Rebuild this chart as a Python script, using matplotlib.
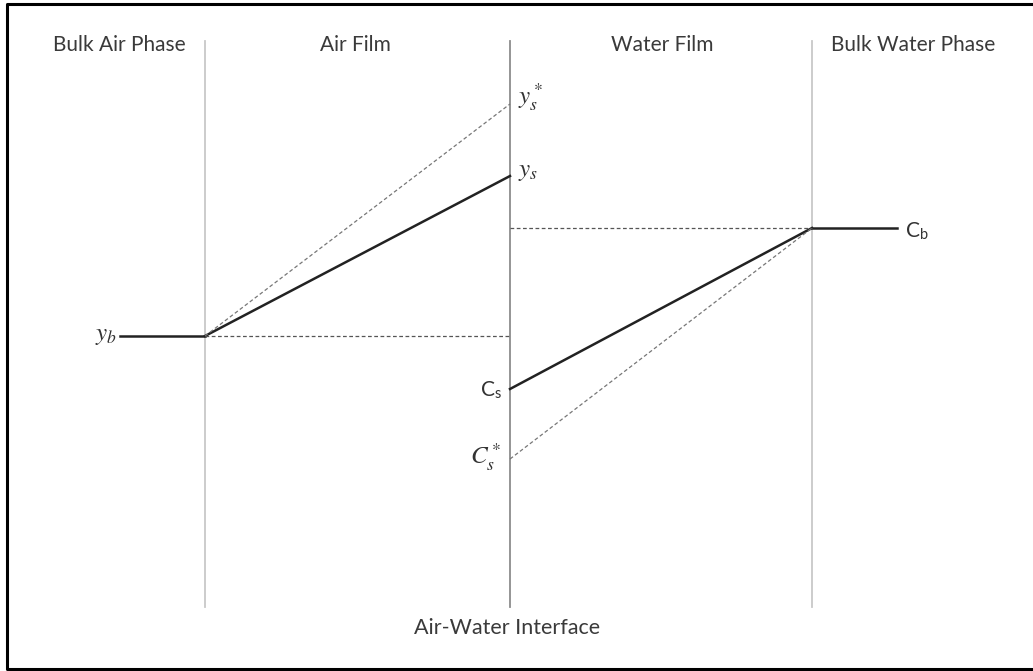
import matplotlib.pyplot as plt
from matplotlib import font_manager

plt.rcParams["mathtext.fontset"] = "stix"

# Two-film model sketch, drawn in pixel-like coordinates (y grows downward)
headers = ["Bulk Air Phase", "Air Film", "Water Film", "Bulk Water Phase"]
header_x = [119, 355, 662, 913]
boundary_x = [205, 510, 812]          # bulk air | interface | bulk water
boundary_col = ["#c8c8c8", "#8c8c8c", "#c8c8c8"]

# concentration levels
y_b, y_s, y_s_star = 336, 176, 104
c_b, c_s, c_s_star = 228, 389, 459

names = {f.name for f in font_manager.fontManager.ttflist}
body = "Lato" if "Lato" in names else "DejaVu Sans"

fig = plt.figure(figsize=(10.33, 6.71), dpi=100)
ax = fig.add_axes([0, 0, 1, 1])
ax.set_xlim(0, 1033)
ax.set_ylim(671, 0)
ax.axis("off")

# frame (right edge is cut off in the original)
ax.plot([1033, 7, 7, 1033], [4, 4, 669, 669], color="black", lw=2.2)

for x, c in zip(boundary_x, boundary_col):
    ax.plot([x, x], [41, 607], color=c, lw=1.3)

for t, x in zip(headers, header_x):
    ax.text(x, 45, t, ha="center", va="center", fontsize=15,
            family=body, color="#3a3a3a")

ax.text(507, 628, "Air-Water Interface", ha="center", va="center",
        fontsize=15.5, family=body, color="#3a3a3a")

x0, xi, x1 = boundary_x
# air side
ax.plot([120, x0], [y_b, y_b], color="#222222", lw=1.8)
ax.plot([x0, xi], [y_b, y_s], color="#222222", lw=1.8)
ax.plot([x0, xi], [y_b, y_s_star], color="#777777", lw=0.9, ls=(0, (3, 2)))
ax.plot([x0, xi], [y_b, y_b], color="#555555", lw=0.9, ls=(0, (3, 2)))
# water side
ax.plot([x1, 897], [c_b, c_b], color="#222222", lw=1.8)
ax.plot([xi, x1], [c_s, c_b], color="#222222", lw=1.8)
ax.plot([xi, x1], [c_s_star, c_b], color="#777777", lw=0.9, ls=(0, (3, 2)))
ax.plot([xi, x1], [c_b, c_b], color="#555555", lw=0.9, ls=(0, (3, 2)))

lab = dict(fontsize=18, color="#333333", va="center")
ax.text(518, 97, r"$y_s^*$", ha="left", **lab)
ax.text(518, 171, r"$y_s$", ha="left", **lab)
ax.text(117, 335, r"$y_b$", ha="right", **lab)
ax.text(501, 457, r"$C_s^*$", ha="right", **lab)
ax.text(502, 390, "C$_\\mathregular{s}$", ha="right", fontsize=15,
        family=body, color="#333333", va="center")
ax.text(905, 231, "C$_\\mathregular{b}$", ha="left", fontsize=15,
        family=body, color="#333333", va="center")

fig.savefig("out.png", dpi=100)
